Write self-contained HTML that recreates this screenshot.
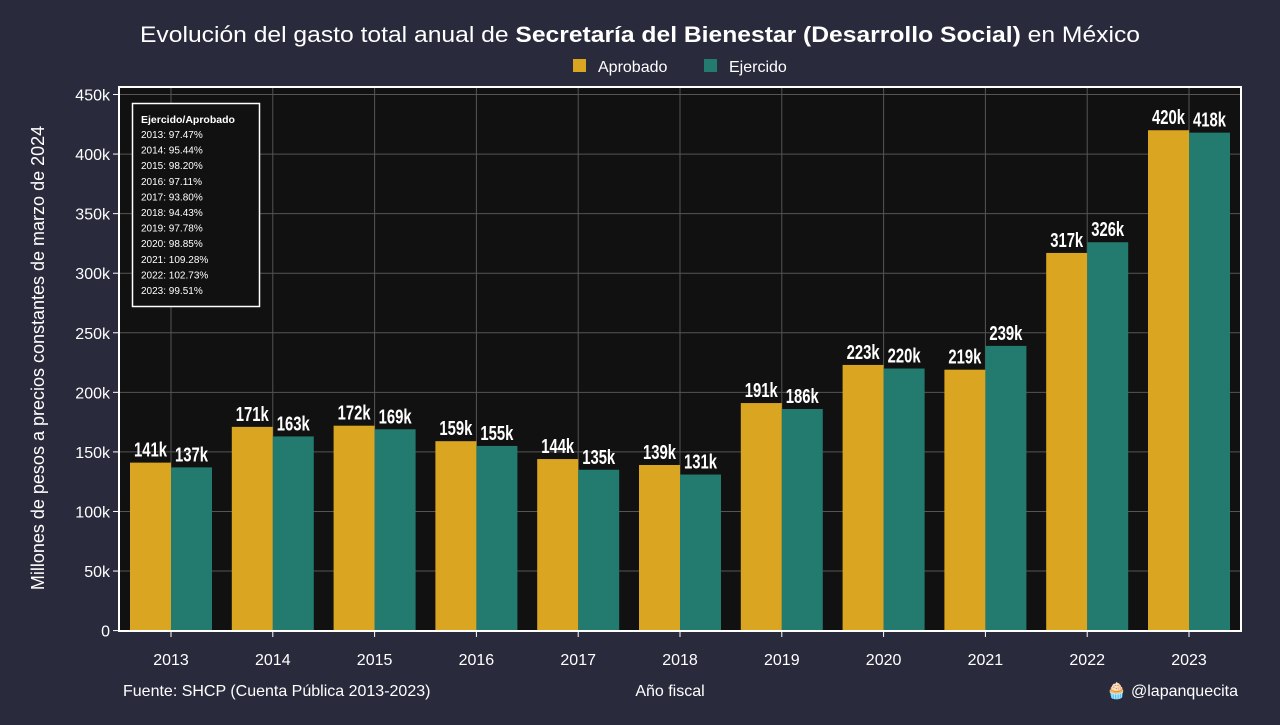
<!DOCTYPE html>
<html><head><meta charset="utf-8">
<style>
html,body{margin:0;padding:0;background:#292a3c;}
body{width:1280px;height:720px;overflow:hidden;font-family:"Liberation Sans",sans-serif;}
</style></head>
<body>
<svg id="chart" width="1280" height="720" xmlns="http://www.w3.org/2000/svg">
<rect width="1280" height="720" fill="#292a3c"/>
<text x="140" y="42" textLength="1000" lengthAdjust="spacingAndGlyphs" fill="#fff" font-size="22">Evolución del gasto total anual de <tspan font-weight="bold">Secretaría del Bienestar (Desarrollo Social)</tspan> en México</text>
<g>
<rect x="573" y="59" width="13" height="13" fill="#daa520"/>
<text x="598" y="72" fill="#fff" font-size="16">Aprobado</text>
<rect x="704" y="59" width="13" height="13" fill="#237a6e"/>
<text x="729" y="72" fill="#fff" font-size="16">Ejercido</text>
</g>
<rect x="119" y="87" width="1122" height="544" fill="#111111"/>
<g id="grid"></g>
<g id="bars"></g>
<g id="axes"></g>
<rect x="119" y="87" width="1122" height="544" fill="none" stroke="#fff" stroke-width="2"/>
<g>
<rect x="132.5" y="103.5" width="127" height="203" fill="#111" stroke="#fff" stroke-width="1.5"/>
<text x="141" y="123" fill="#fff" font-size="10.5" font-weight="bold">Ejercido/Aprobado</text>
<g id="ratios" fill="#fff" font-size="10"></g>
</g>
<text transform="translate(44,358) rotate(-90)" text-anchor="middle" fill="#fff" font-size="18">Millones de pesos a precios constantes de marzo de 2024</text>
<text x="670" y="696" text-anchor="middle" fill="#fff" font-size="16">Año fiscal</text>
<text x="123" y="696" fill="#fff" font-size="16">Fuente: SHCP (Cuenta Pública 2013-2023)</text>
<text x="1238" y="696" text-anchor="end" fill="#fff" font-size="16">🧁 @lapanquecita</text>
</svg>
<script>
const years=["2013","2014","2015","2016","2017","2018","2019","2020","2021","2022","2023"];
const aprobado=[141,171,172,159,144,139,191,223,219,317,420];
const ejercido=[137,163,169,155,135,131,186,220,239,326,418];
const ratios=["97.47%","95.44%","98.20%","97.11%","93.80%","94.43%","97.78%","98.85%","109.28%","102.73%","99.51%"];
const yTicks=[0,50,100,150,200,250,300,350,400,450];
const NS="http://www.w3.org/2000/svg";
const y=v=>630.6-v*(536.1/450);
const xc=i=>171+i*101.8;
const bw=41;
function mk(t,a,p){const e=document.createElementNS(NS,t);for(const k in a)e.setAttribute(k,a[k]);p.appendChild(e);return e;}
const grid=document.getElementById('grid'),bars=document.getElementById('bars'),axes=document.getElementById('axes'),rg=document.getElementById('ratios');
yTicks.forEach(t=>{
 const l=mk('line',{x1:119,x2:1241,y1:y(t),y2:y(t),stroke:'#555',"stroke-width":1},grid);
 
 
 mk('line',{x1:113,x2:119,y1:y(t),y2:y(t),stroke:'#fff'},axes);
 const tx=mk('text',{x:110,y:y(t)+6,"text-anchor":"end",fill:"#fff","font-size":16},axes);
 tx.textContent=t===0?"0":t+"k";
 
 
});
years.forEach((yr,i)=>{
 const g=mk('line',{x1:xc(i),x2:xc(i),y1:87,y2:631,stroke:'#555'},grid);
 
 
 [[aprobado[i],'#daa520',xc(i)-bw,'bar-aprobado-'+yr],[ejercido[i],'#237a6e',xc(i),'bar-ejercido-'+yr]].forEach(([v,c,x,n])=>{
  const r=mk('rect',{x:x,y:y(v),width:bw,height:y(0)-y(v),fill:c},bars);
  
  
  const t=mk('text',{x:x+bw/2-16.5,y:y(v)-6,textLength:33,lengthAdjust:"spacingAndGlyphs",fill:"#fff","font-size":20,"font-weight":"bold"},bars);
  t.textContent=v+"k";
  
  
 });
 mk('line',{x1:xc(i),x2:xc(i),y1:631,y2:637,stroke:'#fff'},axes);
 const tx=mk('text',{x:xc(i),y:665,"text-anchor":"middle",fill:"#fff","font-size":16},axes);
 tx.textContent=yr;
 
 
 const rt=mk('text',{x:141,y:138+i*15.6},rg);
 rt.textContent=yr+": "+ratios[i];
 
 
});
</script>
</body></html>
